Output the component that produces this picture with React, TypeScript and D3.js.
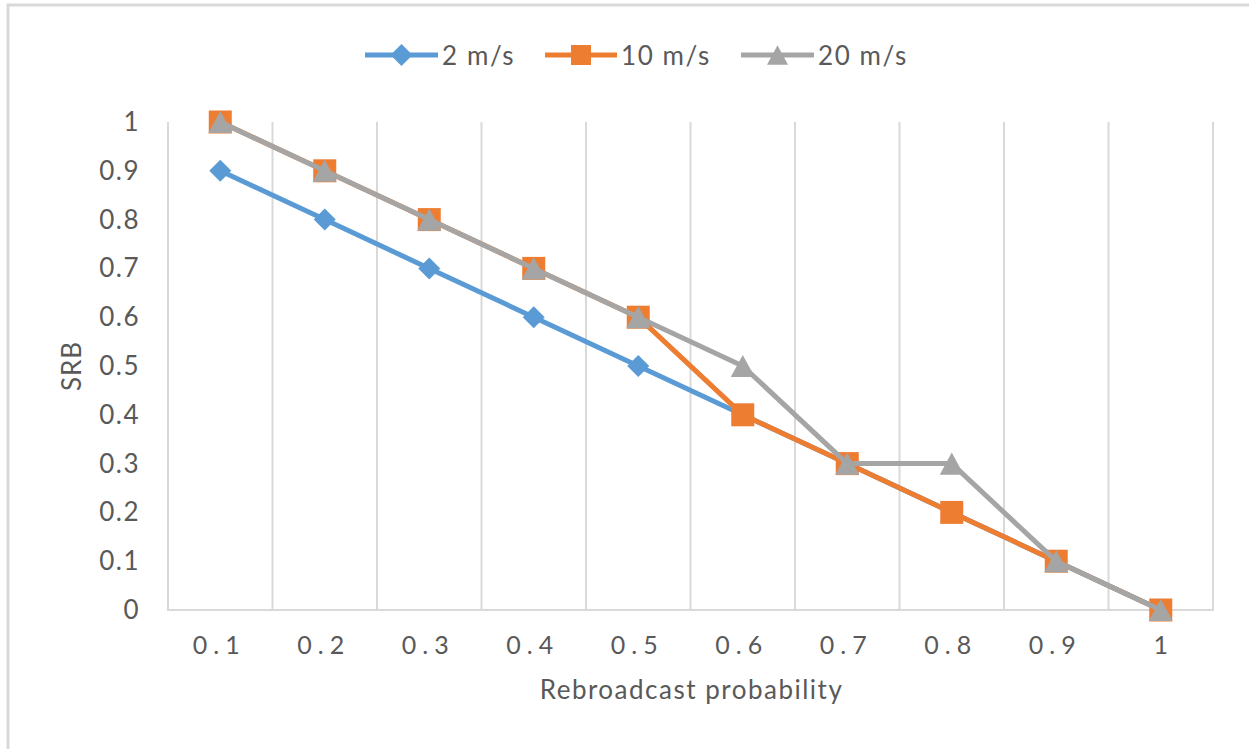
import React, { useEffect, useRef } from 'react';
import * as d3 from 'd3';

const categories = ['0.1', '0.2', '0.3', '0.4', '0.5', '0.6', '0.7', '0.8', '0.9', '1'];
const yTicks = [0, 0.1, 0.2, 0.3, 0.4, 0.5, 0.6, 0.7, 0.8, 0.9, 1];
const yTickLabels = ['0', '0.1', '0.2', '0.3', '0.4', '0.5', '0.6', '0.7', '0.8', '0.9', '1'];
const seriesNames = ['2 m/s', '10 m/s', '20 m/s'];
const speed2 = [0.9, 0.8, 0.7, 0.6, 0.5, 0.4, 0.3, 0.2, 0.1, 0];
const speed10 = [1, 0.9, 0.8, 0.7, 0.6, 0.4, 0.3, 0.2, 0.1, 0];
const speed20 = [1, 0.9, 0.8, 0.7, 0.6, 0.5, 0.3, 0.3, 0.1, 0];

const colors = ['#5b9bd5', '#ed7d31', '#a5a5a5'];

// Excel-like marker shapes, s = full width
const markerPath = (kind: number, s: number) => {
  const h = s / 2;
  if (kind === 0) return `M0,${-h}L${h},0L0,${h}L${-h},0Z`;
  if (kind === 1) return `M${-h},${-h}H${h}V${h}H${-h}Z`;
  const th = s * 0.92;
  return `M0,${-th / 2}L${h},${th / 2}L${-h},${th / 2}Z`;
};

const App: React.FC = () => {
  const ref = useRef<SVGSVGElement>(null);

  useEffect(() => {
    if (!ref.current) return;
    const svg = d3.select(ref.current);
    svg.selectAll('*').remove();

    const width = 1249;
    const height = 749;
    const margin = { top: 122, right: 36, bottom: 139, left: 168 };
    const font = 'Lato, "Open Sans", sans-serif';
    const textColor = '#595959';
    const gridColor = '#d9d9d9';

    svg.attr('width', width).attr('height', height);
    svg.append('rect').attr('width', width).attr('height', height).attr('fill', '#fff');

    // chart frame (only top and left visible)
    svg.append('path')
      .attr('d', `M8,${height} L8,5 L${width},5`)
      .attr('fill', 'none')
      .attr('stroke', gridColor)
      .attr('stroke-width', 3);

    const x = d3.scaleBand<string>()
      .domain(categories)
      .range([margin.left, width - margin.right])
      .padding(0);

    const y = d3.scaleLinear()
      .domain([0, 1])
      .range([height - margin.bottom, margin.top]);

    const cx = (c: string) => (x(c) as number) + x.bandwidth() / 2;

    // vertical gridlines at category boundaries
    const bounds = categories.map(c => x(c) as number).concat([x.range()[1]]);
    svg.append('g')
      .selectAll('line')
      .data(bounds)
      .enter()
      .append('line')
      .attr('x1', d => d)
      .attr('x2', d => d)
      .attr('y1', y(1))
      .attr('y2', y(0))
      .attr('stroke', gridColor)
      .attr('stroke-width', 2);

    // x axis line
    svg.append('line')
      .attr('x1', x.range()[0] - 1)
      .attr('x2', x.range()[1] + 1)
      .attr('y1', y(0))
      .attr('y2', y(0))
      .attr('stroke', gridColor)
      .attr('stroke-width', 2);

    // y tick labels
    svg.append('g')
      .selectAll('text')
      .data(yTicks)
      .enter()
      .append('text')
      .attr('x', 140)
      .attr('y', d => y(d) + 9)
      .attr('text-anchor', 'end')
      .style('font-family', font)
      .style('font-size', '26px')
      .style('letter-spacing', '1.5px')
      .style('fill', textColor)
      .text((_, i) => yTickLabels[i]);

    // x tick labels
    svg.append('g')
      .selectAll('text')
      .data(categories)
      .enter()
      .append('text')
      .attr('x', d => cx(d) + (d.length > 1 ? -1 : 3))
      .attr('y', y(0) + 44)
      .attr('text-anchor', 'middle')
      .style('font-family', font)
      .style('font-size', '25px')
      .style('letter-spacing', '6px')
      .style('fill', textColor)
      .text(d => d);

    // axis titles
    svg.append('text')
      .attr('x', (x.range()[0] + x.range()[1]) / 2 + 1)
      .attr('y', 699)
      .attr('text-anchor', 'middle')
      .style('font-family', font)
      .style('font-size', '26px')
      .style('letter-spacing', '1.5px')
      .style('fill', textColor)
      .text('Rebroadcast probability');

    svg.append('text')
      .attr('transform', `translate(81,${(y(0) + y(1)) / 2}) rotate(-90)`)
      .attr('text-anchor', 'middle')
      .style('font-family', font)
      .style('font-size', '26px')
      .style('letter-spacing', '1px')
      .style('fill', textColor)
      .text('SRB');

    // series
    const allSeries = [speed2, speed10, speed20];
    const markerSize = [22, 23, 24];
    const line = d3.line<number>()
      .x((_, i) => cx(categories[i]))
      .y(d => y(d));

    allSeries.forEach((values, s) => {
      const g = svg.append('g');
      g.append('path')
        .datum(values)
        .attr('fill', 'none')
        .attr('stroke', colors[s])
        .attr('stroke-width', 5)
        .attr('stroke-linejoin', 'round')
        .attr('d', line);

      g.selectAll('path.marker')
        .data(values)
        .enter()
        .append('path')
        .attr('class', 'marker')
        .attr('transform', (d, i) => `translate(${cx(categories[i])},${y(d)})`)
        .attr('d', markerPath(s, markerSize[s]))
        .attr('fill', colors[s]);
    });

    // legend
    const legendItems = [
      { x1: 365, x2: 438, tx: 442 },
      { x1: 545, x2: 617, tx: 621 },
      { x1: 741, x2: 814, tx: 818 },
    ];
    const legendMarker = [22, 20, 21];
    const ly = 55;
    legendItems.forEach((it, s) => {
      const g = svg.append('g');
      g.append('line')
        .attr('x1', it.x1)
        .attr('x2', it.x2)
        .attr('y1', ly)
        .attr('y2', ly)
        .attr('stroke', colors[s])
        .attr('stroke-width', 5);
      g.append('path')
        .attr('transform', `translate(${(it.x1 + it.x2) / 2},${ly})`)
        .attr('d', markerPath(s, legendMarker[s]))
        .attr('fill', colors[s]);
      g.append('text')
        .attr('x', it.tx)
        .attr('y', ly + 10)
        .style('font-family', font)
        .style('font-size', '26px')
        .style('letter-spacing', '1.6px')
        .style('fill', textColor)
        .text(seriesNames[s]);
    });
  }, []);

  return (
    <div style={{ position: 'absolute', left: 0, top: 0 }}>
      <svg ref={ref}></svg>
    </div>
  );
};

export default App;
